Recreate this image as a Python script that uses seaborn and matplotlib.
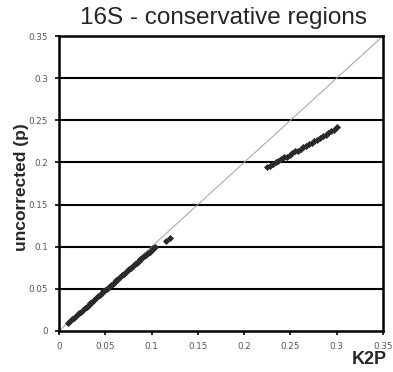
import matplotlib
matplotlib.use("Agg")
import matplotlib.pyplot as plt
import seaborn as sns
import pandas as pd

# Pairwise distances: K2P (x) against uncorrected p-distance (y)
k2p_low = [0.010, 0.012, 0.014, 0.016, 0.018, 0.020, 0.022, 0.024, 0.026, 0.028,
           0.030, 0.032, 0.034, 0.036, 0.038, 0.040, 0.042, 0.044, 0.046, 0.048,
           0.050, 0.052, 0.054, 0.056, 0.058, 0.060, 0.062, 0.064, 0.066, 0.068,
           0.070, 0.072, 0.074, 0.076, 0.078, 0.080, 0.082, 0.084, 0.086, 0.088,
           0.090, 0.092, 0.094, 0.096, 0.098, 0.100, 0.102, 0.104, 0.116, 0.120]
p_low = [0.010, 0.012, 0.014, 0.016, 0.018, 0.020, 0.021, 0.023, 0.025, 0.027,
         0.029, 0.031, 0.033, 0.035, 0.037, 0.039, 0.041, 0.043, 0.045, 0.047,
         0.049, 0.050, 0.052, 0.054, 0.056, 0.058, 0.060, 0.062, 0.064, 0.066,
         0.068, 0.070, 0.072, 0.073, 0.075, 0.077, 0.079, 0.081, 0.083, 0.085,
         0.087, 0.089, 0.090, 0.092, 0.094, 0.096, 0.098, 0.100, 0.107, 0.110]
k2p_high = [0.225, 0.228, 0.231, 0.234, 0.237, 0.240, 0.243, 0.246, 0.249, 0.252,
            0.255, 0.258, 0.261, 0.264, 0.267, 0.270, 0.273, 0.276, 0.279, 0.282,
            0.285, 0.288, 0.291, 0.294, 0.297, 0.300]
p_high = [0.194, 0.196, 0.198, 0.200, 0.202, 0.204, 0.206, 0.207, 0.209, 0.211,
          0.213, 0.214, 0.216, 0.218, 0.220, 0.222, 0.223, 0.225, 0.227, 0.229,
          0.231, 0.233, 0.235, 0.237, 0.239, 0.242]

ticks = [0, 0.05, 0.1, 0.15, 0.2, 0.25, 0.3, 0.35]
tick_labels = ["0", "0.05", "0.1", "0.15", "0.2", "0.25", "0.3", "0.35"]

df = pd.DataFrame({"K2P": k2p_low + k2p_high, "p": p_low + p_high})

sns.set_theme(style="white")
plt.rcParams["font.family"] = ["Liberation Sans", "DejaVu Sans"]

fig = plt.figure(figsize=(3.93, 3.72), dpi=100)
ax = fig.add_axes([59 / 393, 1 - 331 / 372, 324 / 393, 295 / 372])

for t in ticks[1:-1]:
    ax.axhline(t, color="black", lw=1.5, zorder=1)
ax.plot([0, 0.35], [0, 0.35], color="#a0a0a0", lw=0.7, zorder=2)

sns.scatterplot(data=df, x="K2P", y="p", marker="D", s=9, color="#2a2a2a",
                edgecolor="#2a2a2a", linewidth=0.6, ax=ax, zorder=3)

ax.set_xlim(0, 0.35)
ax.set_ylim(0, 0.35)
ax.set_xticks(ticks)
ax.set_yticks(ticks)
ax.set_xticklabels(tick_labels, family="DejaVu Sans", fontsize=6.3, color="#555555")
ax.set_yticklabels(tick_labels, family="DejaVu Sans", fontsize=6.3, color="#555555")
ax.tick_params(axis="both", direction="out", length=3, width=1.2, color="black", pad=5)
ax.xaxis.set_ticks_position("bottom")
ax.yaxis.set_ticks_position("left")
for sp in ax.spines.values():
    sp.set_color("black")
    sp.set_linewidth(1.8)

ax.set_xlabel("")
ax.set_ylabel("")
fig.text(22 / 393, 1 - 187 / 372, "uncorrected (p)", rotation=90, ha="center",
         va="center", fontsize=12.5, fontweight="bold")
fig.text(387 / 393, 1 - 359 / 372, "K2P", ha="right", va="center",
         fontsize=13, fontweight="bold")
fig.text(224 / 393, 1 - 18 / 372, "16S - conservative regions", ha="center",
         va="center", fontsize=17.5)

fig.savefig("out.png", dpi=100)
